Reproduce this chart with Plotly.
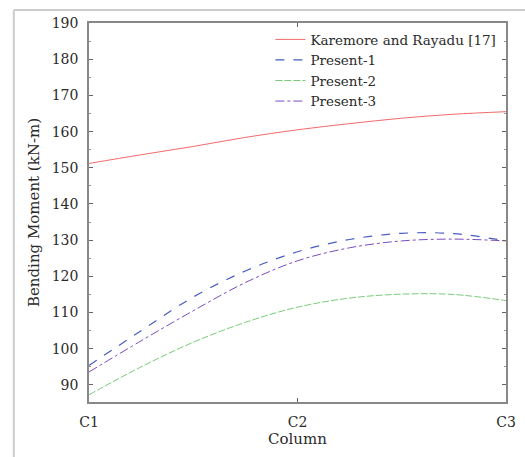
import plotly.graph_objects as go

# positions along the column axis (0 = C1, 1 = C2, 2 = C3)
pos = [0.0, 0.25, 0.5, 0.75, 1.0, 1.25, 1.5, 1.75, 2.0]
tick_vals = [0, 1, 2]
tick_text = ["C1", "C2", "C3"]

karemore = [151.2, 153.6, 155.9, 158.4, 160.5, 162.2, 163.7, 164.8, 165.5]
present1 = [95.4, 105.0, 114.3, 121.5, 126.8, 130.2, 131.9, 131.8, 129.8]
present2 = [87.3, 95.0, 101.8, 107.3, 111.5, 114.0, 115.1, 115.0, 113.3]
present3 = [93.6, 102.2, 110.5, 118.3, 124.3, 127.9, 129.8, 130.3, 129.8]

font_fam = "DejaVu Serif"

fig = go.Figure()
fig.add_trace(go.Scatter(x=pos, y=karemore, mode="lines", name="Karemore and Rayadu [17]",
                         line=dict(color="#f26a6a", width=1, shape="spline")))
fig.add_trace(go.Scatter(x=pos, y=present1, mode="lines", name="Present-1",
                         line=dict(color="#4a5cc0", width=1.2, dash="dash", shape="spline")))
fig.add_trace(go.Scatter(x=pos, y=present2, mode="lines", name="Present-2",
                         line=dict(color="#7acc7a", width=1, dash="7px,2px", shape="spline")))
fig.add_trace(go.Scatter(x=pos, y=present3, mode="lines", name="Present-3",
                         line=dict(color="#7a4cc0", width=1, dash="dashdot", shape="spline")))

fig.update_layout(
    width=525, height=457,
    margin=dict(l=89, r=9, t=23, b=55),
    paper_bgcolor="white", plot_bgcolor="white",
    font=dict(family=font_fam, size=14, color="#2a2a2a"),
    showlegend=True,
    legend=dict(x=0.435, y=0.997, xanchor="left", yanchor="top",
                bgcolor="rgba(255,255,255,0)", font=dict(size=13.5, family=font_fam),
                tracegroupgap=0, itemwidth=30),
    xaxis=dict(range=[0, 2], tickvals=tick_vals, ticktext=tick_text,
               ticks="inside", ticklen=4, tickcolor="#666", showgrid=False, zeroline=False,
               showline=True, linecolor="#888", linewidth=1.5, mirror="ticks",
               ticklabelstandoff=6,
               title=dict(text="Column", font=dict(size=15, family=font_fam), standoff=4),
               tickfont=dict(size=14, family=font_fam)),
    yaxis=dict(range=[85.3, 190], tickvals=[90, 100, 110, 120, 130, 140, 150, 160, 170, 180, 190],
               ticks="inside", ticklen=4, tickcolor="#666", showgrid=False, zeroline=False,
               showline=True, linecolor="#888", linewidth=1.5, mirror="ticks",
               ticklabelstandoff=6,
               minor=dict(tickvals=[95, 105, 115, 125, 135, 145, 155, 165, 175, 185],
                          ticks="inside", ticklen=2, tickcolor="#999"),
               title=dict(text="Bending Moment (kN-m)", font=dict(size=15, family=font_fam), standoff=8),
               tickfont=dict(size=14, family=font_fam)),
)

# outer figure frame (light grey lines at left and top)
fig.add_shape(type="line", xref="paper", yref="paper", x0=-77/427, x1=-77/427, y0=-1, y1=13/379 + 1,
              line=dict(color="#cccccc", width=2))
fig.add_shape(type="line", xref="paper", yref="paper", x0=-77/427, x1=1.05, y0=1 + 13/379, y1=1 + 13/379,
              line=dict(color="#cccccc", width=2))

fig.write_html("out.html")
